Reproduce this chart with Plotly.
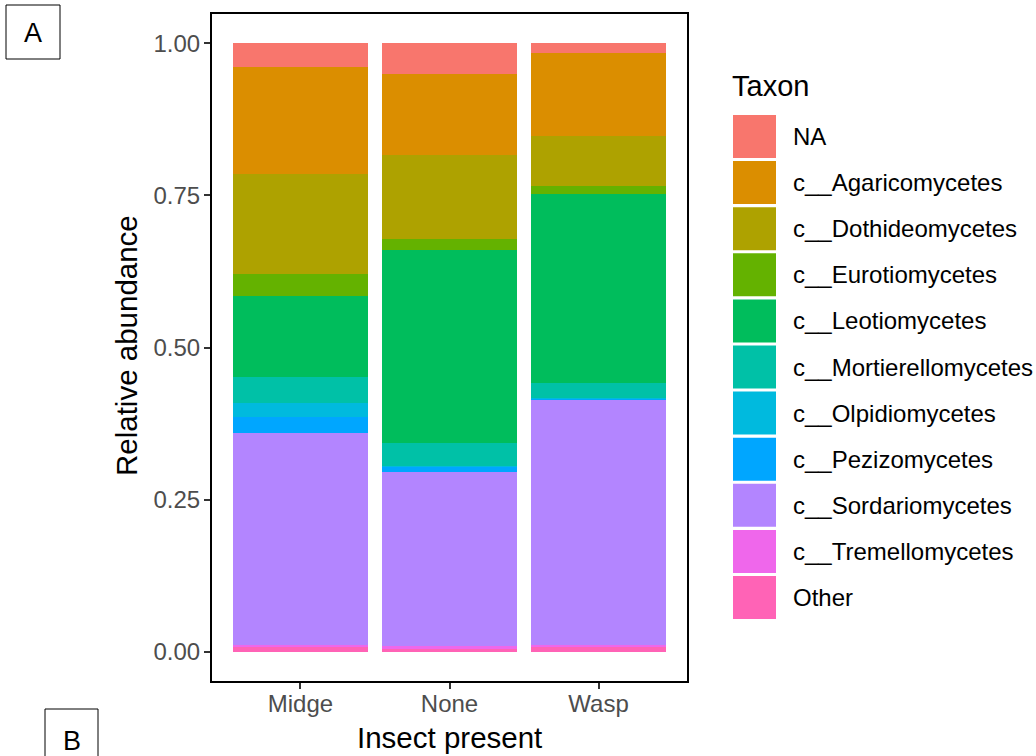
import plotly.graph_objects as go

# ---------------- data ----------------
groups = ["Midge", "None", "Wasp"]
taxa = ["NA", "c__Agaricomycetes", "c__Dothideomycetes", "c__Eurotiomycetes",
        "c__Leotiomycetes", "c__Mortierellomycetes", "c__Olpidiomycetes",
        "c__Pezizomycetes", "c__Sordariomycetes", "c__Tremellomycetes", "Other"]
colors = ["#F8766D", "#DB8E00", "#AEA200", "#64B200", "#00BD5C", "#00C1A7",
          "#00BADE", "#00A6FF", "#B385FF", "#EF67EB", "#FF63B6"]

# relative abundance per taxon for [Midge, None, Wasp]
na_vals     = [0.039, 0.051, 0.016]
agar_vals   = [0.176, 0.133, 0.138]
doth_vals   = [0.164, 0.138, 0.081]
euro_vals   = [0.036, 0.018, 0.014]
leo_vals    = [0.1334, 0.317, 0.311]
mort_vals   = [0.0426, 0.037, 0.0234]
olp_vals    = [0.023, 0.001, 0.001]
pez_vals    = [0.026, 0.009, 0.0028]
sord_vals   = [0.3485, 0.286, 0.4023]
trem_vals   = [0.0035, 0.0055, 0.0045]
other_vals  = [0.008, 0.0044, 0.007]

values = [na_vals, agar_vals, doth_vals, euro_vals, leo_vals, mort_vals,
          olp_vals, pez_vals, sord_vals, trem_vals, other_vals]

y_ticks = [0, 0.25, 0.5, 0.75, 1.0]
y_ticklabels = ["0.00", "0.25", "0.50", "0.75", "1.00"]

FONT = "Liberation Sans, Arial, Helvetica, sans-serif"

# ---------------- layout geometry (pixels) ----------------
W, H = 1036, 756
PL, PR, PT, PB = 211, 688, 13, 682  # panel edges


def px_x(x):
    return (x - PL) / (PR - PL)


def px_y(y):
    return (PB - y) / (PB - PT)


fig = go.Figure()
# plotly stacks first trace at bottom; ggplot puts first level on top
for name, col, vals in reversed(list(zip(taxa, colors, values))):
    fig.add_trace(go.Bar(x=groups, y=vals, name=name, marker_color=col,
                         marker_line_width=0, showlegend=False))

shapes = []
annotations = []

# panel border
shapes.append(dict(type="rect", xref="paper", yref="paper", x0=0, x1=1, y0=0, y1=1,
                   line=dict(color="black", width=2), fillcolor="rgba(0,0,0,0)", layer="above"))

# custom legend
annotations.append(dict(text="Taxon", xref="paper", yref="paper", x=px_x(730), y=px_y(86),
                        xanchor="left", yanchor="middle", showarrow=False,
                        font=dict(family=FONT, size=29, color="black")))
key_top0, pitch, key_h = 115, 46.1, 43
for i, (name, col) in enumerate(zip(taxa, colors)):
    top = key_top0 + i * pitch
    shapes.append(dict(type="rect", xref="paper", yref="paper",
                       x0=px_x(733), x1=px_x(776), y0=px_y(top + key_h), y1=px_y(top),
                       fillcolor=col, line=dict(width=0)))
    annotations.append(dict(text=name, xref="paper", yref="paper", x=px_x(791),
                            y=px_y(top + key_h / 2), xanchor="left", yanchor="middle",
                            showarrow=False, font=dict(family=FONT, size=24, color="black")))

# axis titles
annotations.append(dict(text="Relative abundance", xref="paper", yref="paper",
                        x=px_x(126), y=px_y(346), textangle=-90, xanchor="center",
                        yanchor="middle", showarrow=False,
                        font=dict(family=FONT, size=29.5, color="black")))
annotations.append(dict(text="Insect present", xref="paper", yref="paper",
                        x=px_x(449), y=px_y(737), xanchor="center", yanchor="middle",
                        showarrow=False, font=dict(family=FONT, size=29.5, color="black")))

# panel tags A / B
shapes.append(dict(type="rect", xref="paper", yref="paper", x0=px_x(6), x1=px_x(60),
                   y0=px_y(59), y1=px_y(5), line=dict(color="black", width=1),
                   fillcolor="white"))
annotations.append(dict(text="A", xref="paper", yref="paper", x=px_x(33), y=px_y(33),
                        xanchor="center", yanchor="middle", showarrow=False,
                        font=dict(family=FONT, size=27, color="black")))
shapes.append(dict(type="rect", xref="paper", yref="paper", x0=px_x(45), x1=px_x(98),
                   y0=px_y(775), y1=px_y(709), line=dict(color="black", width=1),
                   fillcolor="white"))
annotations.append(dict(text="B", xref="paper", yref="paper", x=px_x(72), y=px_y(741),
                        xanchor="center", yanchor="middle", showarrow=False,
                        font=dict(family=FONT, size=27, color="black")))

fig.update_layout(
    width=W, height=H,
    margin=dict(l=PL, r=W - PR, t=PT, b=H - PB, pad=0),
    barmode="stack", bargap=0.1,
    paper_bgcolor="white", plot_bgcolor="white",
    showlegend=False,
    shapes=shapes, annotations=annotations,
    font=dict(family=FONT),
)
fig.update_xaxes(type="category", range=[-0.6, 2.6], showgrid=False, zeroline=False,
                 ticks="outside", ticklen=6, tickwidth=1.5, tickcolor="#333333",
                 ticklabelstandoff=-6,
                 tickfont=dict(family=FONT, size=24, color="#4D4D4D"), showline=False)
fig.update_yaxes(range=[-0.05, 1.05], tickvals=y_ticks, ticktext=y_ticklabels,
                 showgrid=False, zeroline=False, ticks="outside", ticklen=6, tickwidth=1.5,
                 ticklabelstandoff=-1,
                 tickcolor="#333333", tickfont=dict(family=FONT, size=24, color="#4D4D4D"),
                 showline=False)

fig.write_html("out.html", config={"displayModeBar": False},
               post_script="document.body.style.margin='0';document.body.style.overflow='hidden';")
